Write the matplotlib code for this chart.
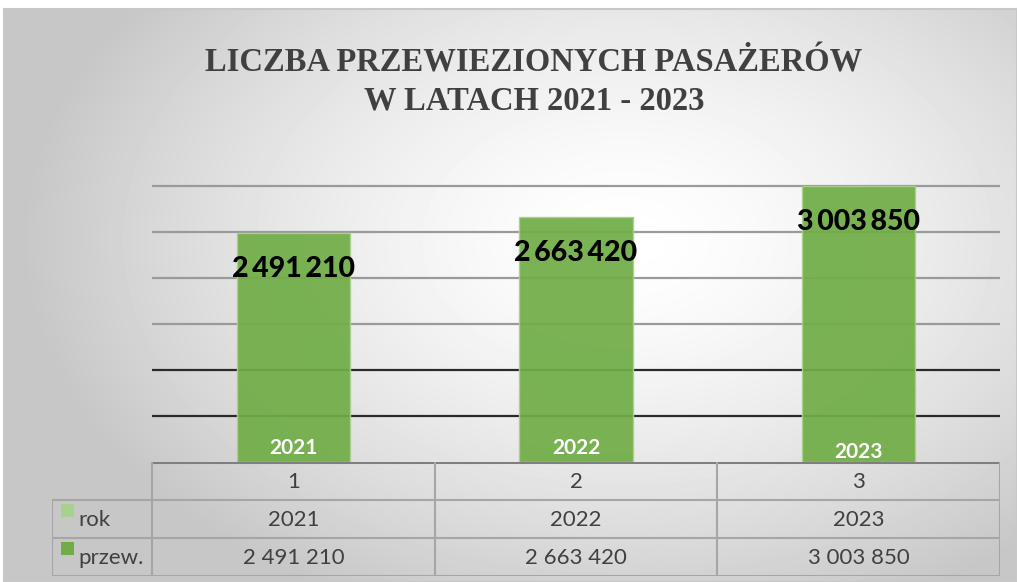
import numpy as np
import matplotlib.pyplot as plt

years = [2021, 2022, 2023]
passengers = [2491210, 2663420, 3003850]
col_labels = ['1', '2', '3']
row_labels = ['rok', 'przew.']

title = 'LICZBA PRZEWIEZIONYCH PASAŻERÓW\nW LATACH 2021 - 2023'

W, H = 1017, 582
GREEN = '#70ad47'
LIGHT = '#a9d18e'
TXT = '#404040'


def fmt(v, sep=' '):
    return '{:,}'.format(v).replace(',', sep)


def fx(px):
    return px / W


def fy(py):
    return 1 - py / H


fig = plt.figure(figsize=(W / 100, H / 100), dpi=100)

# radial background of the chart area
bg = fig.add_axes([fx(4), 0, 1 - fx(4), fy(9)])
yy, xx = np.mgrid[0:573, 0:1013]
d = np.sqrt(((xx - 620) / 600.0) ** 2 + ((yy - 230) / 400.0) ** 2)
shade = 1 - 0.22 * np.clip(d, 0, 1) ** 1.5
bg.imshow(shade, cmap='gray', vmin=0, vmax=1, aspect='auto', interpolation='bilinear')
bg.set_xticks([])
bg.set_yticks([])
for s in bg.spines.values():
    s.set_color('#c8c8c8')
    s.set_linewidth(1.5)

fig.text(fx(534), fy(82), title, ha='center', va='center', fontsize=23.5,
         family='Liberation Serif', weight='bold', color=TXT, linespacing=1.3)

# plot area
ymax = 3.5e6
top_px = 462 - ymax / 10880
ax = fig.add_axes([fx(152), fy(462), fx(1000) - fx(152), (462 - top_px) / H])
ax.patch.set_visible(False)
x = np.arange(len(years))
ax.set_xlim(-0.5, 2.5)
ax.set_ylim(0, ymax)
grid = np.arange(500000, 3000001, 500000)
for g in grid:
    c = '#2a2a2a' if g <= 1000000 else '#9a9a9a'
    ax.axhline(g, color=c, lw=1.6, zorder=1)
ax.bar(x, years, width=0.4, color=LIGHT, zorder=2)
bars = ax.bar(x, passengers, bottom=years, width=0.4, color=GREEN, alpha=0.93,
              edgecolor=LIGHT, linewidth=1, zorder=2)
for xi, v, yr, dy in zip(x, passengers, years, [14, 14, 10]):
    ax.annotate(fmt(v, '\u2009'), (xi, v), xytext=(0, -36), textcoords='offset pixels',
                ha='center', va='center', fontsize=20.5, family='Lato',
                weight='black', color='black', zorder=4)
    ax.annotate(str(yr), (xi, 0), xytext=(0, dy), textcoords='offset pixels',
                ha='center', va='center', fontsize=15, family='Lato',
                weight='bold', color='white', zorder=4)
ax.axis('off')

# data table
lab_w = (152 - 52) / 282.67
tab = fig.add_axes([fx(52), fy(576), fx(1000) - fx(52), (576 - 462) / H])
tab.set_xlim(-0.5 - lab_w, 2.5)
tab.set_ylim(3, 0)
tab.axis('off')
lc = '#a6a6a6'
tab.plot([-0.5, 2.5], [0, 0], color='#7f7f7f', lw=2.2)
for r in [1, 2, 3]:
    tab.plot([-0.5 - lab_w, 2.5], [r, r], color=lc, lw=1.5)
for c in [-0.5, 0.5, 1.5, 2.5]:
    tab.plot([c, c], [0, 3], color=lc, lw=1.5)
tab.plot([-0.5 - lab_w] * 2, [1, 3], color=lc, lw=1.5)
rows = [[str(y) for y in years], [fmt(v) for v in passengers]]
for xi, cl in zip(x, col_labels):
    tab.text(xi, 0.52, cl, ha='center', va='center', fontsize=16,
             family='Lato', color=TXT)
for ri, (name, vals, sw) in enumerate(zip(row_labels, rows, [LIGHT, GREEN])):
    yc = ri + 1.5
    tab.add_patch(plt.Rectangle((-0.5 - lab_w + 0.033, yc - 0.4), 0.045, 0.36,
                                color=sw, lw=0))
    tab.text(-0.5 - lab_w + 0.095, yc + 0.02, name, ha='left', va='center',
             fontsize=16, family='Lato', color=TXT)
    for xi, s in zip(x, vals):
        tab.text(xi, yc + 0.02, s, ha='center', va='center', fontsize=16,
                 family='Lato', color=TXT)

fig.savefig('out.png', dpi=100)
